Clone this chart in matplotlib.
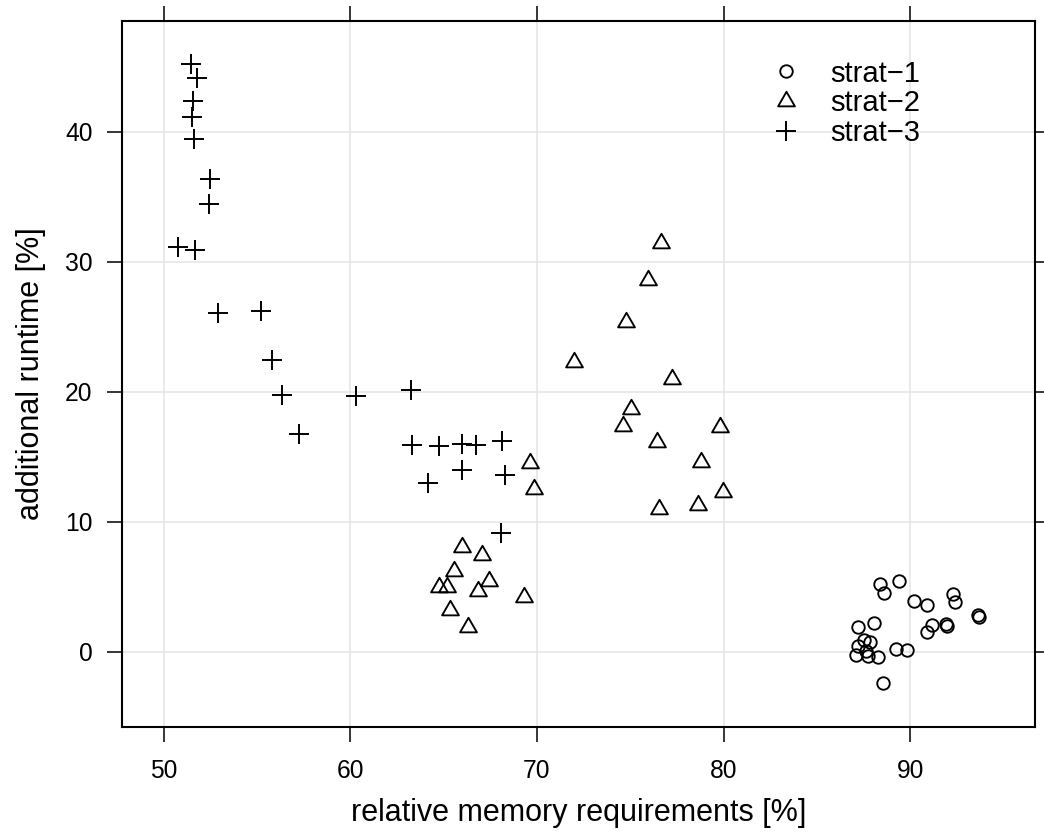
import matplotlib
matplotlib.use("Agg")
import matplotlib.pyplot as plt
from matplotlib.path import Path
from matplotlib.lines import Line2D
import numpy as np

# relative memory requirements [%] / additional runtime [%] per strategy
strat1_mem = [88.36, 89.39, 88.57, 90.18, 90.89, 92.29, 92.38, 93.65, 93.68,
              87.19, 88.05, 91.16, 90.88, 91.93, 91.98, 87.50, 87.82, 87.19,
              87.64, 87.07, 87.73, 88.27, 89.23, 89.82, 88.52]
strat1_run = [5.22, 5.40, 4.50, 3.91, 3.55, 4.40, 3.78, 2.78, 2.63,
              1.91, 2.19, 2.01, 1.53, 2.12, 1.96, 0.88, 0.76, 0.42,
              0.06, -0.27, -0.32, -0.40, 0.22, 0.09, -2.45]

strat2_mem = [76.67, 75.95, 74.79, 71.98, 77.26, 75.04, 74.59, 79.80, 76.43,
              69.62, 78.79, 69.84, 79.99, 78.63, 76.54, 66.00, 67.05, 65.55,
              67.43, 65.16, 64.73, 66.85, 69.30, 65.34, 66.30]
strat2_run = [31.41, 28.58, 25.32, 22.26, 20.99, 18.69, 17.35, 17.24, 16.09,
              14.49, 14.58, 12.47, 12.29, 11.28, 10.97, 8.01, 7.40, 6.18,
              5.40, 4.99, 4.95, 4.65, 4.17, 3.23, 1.89]

strat3_mem = [51.45, 51.81, 51.56, 51.50, 51.65, 52.50, 52.41, 50.80, 51.66,
              52.93, 55.22, 55.81, 56.34, 60.33, 57.27, 63.26, 63.33, 64.73,
              66.01, 66.71, 68.14, 66.01, 64.16, 68.30, 68.09]
strat3_run = [45.19, 44.14, 42.32, 41.12, 39.42, 36.37, 34.40, 31.09, 30.88,
              26.01, 26.21, 22.42, 19.75, 19.63, 16.71, 20.12, 15.86, 15.83,
              15.98, 15.86, 16.22, 13.94, 12.99, 13.60, 9.09]

labels = ["strat\u22121", "strat\u22122", "strat\u22123"]
x_ticks = [50, 60, 70, 80, 90]
y_ticks = [0, 10, 20, 30, 40]

plt.rcParams["font.family"] = ["Liberation Sans", "DejaVu Sans"]

# open triangle centred on its centroid
tri = Path([(0, 1.1547), (1, -0.57735), (-1, -0.57735), (0, 1.1547)],
           [Path.MOVETO, Path.LINETO, Path.LINETO, Path.CLOSEPOLY])

fig = plt.figure(figsize=(10.44, 8.36), dpi=100)
ax = fig.add_axes([0.1173, 0.1307, 0.9914 - 0.1173, 0.9752 - 0.1307])

mk = dict(linestyle="none", color="black", markerfacecolor="none",
          markeredgewidth=1.35)
styles = [dict(marker="o", markersize=9.0),
          dict(marker=tri, markersize=14.0),
          dict(marker="+", markersize=14.0, markeredgewidth=1.4)]
series = [(strat1_mem, strat1_run), (strat2_mem, strat2_run),
          (strat3_mem, strat3_run)]

handles = []
for (xs, ys), st, lab in zip(series, styles, labels):
    kw = dict(mk)
    kw.update(st)
    ax.plot(xs, ys, zorder=3, **kw)
    handles.append(Line2D([], [], **kw))

# padded limits around the data (7% on each side)
all_x = np.concatenate([strat1_mem, strat2_mem, strat3_mem])
all_y = np.concatenate([strat1_run, strat2_run, strat3_run])
px = 0.07 * (all_x.max() - all_x.min())
py = 0.07 * (all_y.max() - all_y.min())
ax.set_xlim(all_x.min() - px, all_x.max() + px)
ax.set_ylim(all_y.min() - py, all_y.max() + py)

ax.set_xticks(x_ticks)
ax.set_yticks(y_ticks)
ax.grid(True, color="#e6e6e6", linewidth=1.2, zorder=0)
ax.set_axisbelow(True)
for s in ax.spines.values():
    s.set_linewidth(1.5)
    s.set_color("black")

ax.tick_params(axis="both", which="major", direction="out", length=10.8,
               width=1.1, color="black", labelsize=17.7,
               top=True, right=True, labeltop=False, labelright=False)
ax.tick_params(axis="x", pad=12.5)
ax.tick_params(axis="y", pad=10.8)

ax.set_xlabel("relative memory requirements [%]", fontsize=22, labelpad=11.0)
ax.set_ylabel("additional runtime [%]", fontsize=22, labelpad=13.5)

ax.legend(handles, labels, frameon=False, loc="upper left",
          bbox_to_anchor=(771.4 / 1044, 1 - 59.5 / 836),
          bbox_transform=fig.transFigure, fontsize=21, handlelength=1.0,
          handletextpad=1.03, labelspacing=0.06, borderpad=0.0,
          borderaxespad=0.0)

fig.savefig("out.png", dpi=100)
